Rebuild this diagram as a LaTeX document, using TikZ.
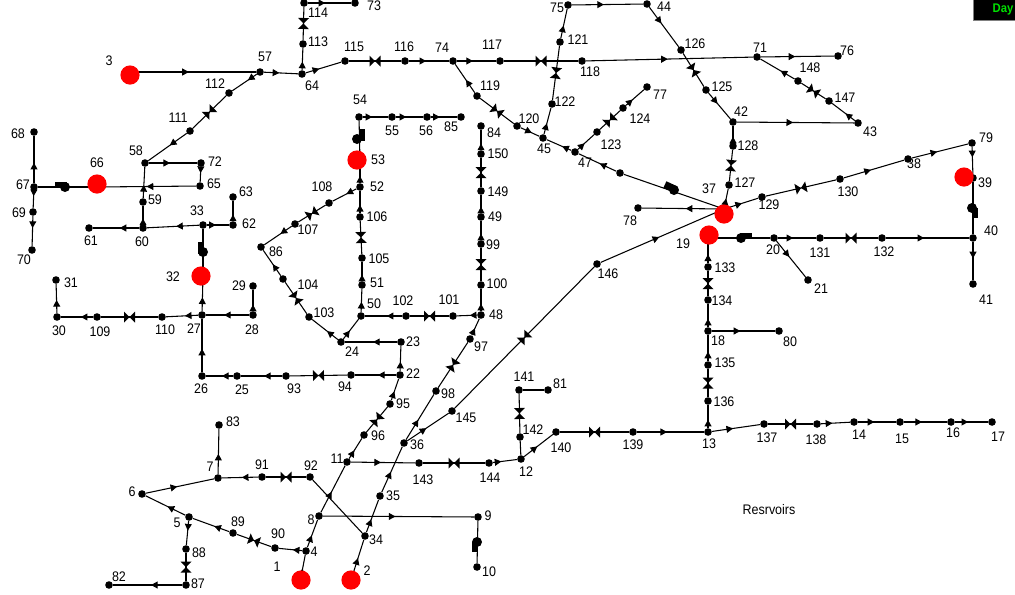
\documentclass[tikz,border=0pt]{standalone}
\usepackage{fontspec}
\setmainfont{Liberation Sans}[FakeStretch=0.9]
\usepackage{tikz}
\usetikzlibrary{arrows.meta, decorations.markings}

\tikzset{
    jn/.style={circle, fill=black, inner sep=0pt, minimum size=5.7pt},
    res/.style={circle, fill=red, inner sep=0pt, minimum size=14.4pt},
    lbl/.style={inner sep=0pt, font=\fontsize{10.4}{11}\selectfont},
    pumpdot/.style={circle, fill=black, inner sep=0pt, minimum size=7.5pt},
    pumpbox/.style={rectangle, fill=black, inner sep=0pt},
    pipe/.style={line width=0.8pt},
    arr/.style={pipe, postaction={decorate, decoration={markings, mark=at position #1 with {\arrow{Triangle[length=5pt,width=5.2pt]}}}}},
    valve/.style={pipe, postaction={decorate, decoration={markings, mark=at position 0.5 with {\fill (-5.5,-5.5) -- (-5.5,5.5) -- (5.5,-5.5) -- (5.5,5.5) -- cycle;}}}}
}

\begin{document}
\begin{tikzpicture}[x=0.75pt, y=-0.75pt]
    \useasboundingbox (0,0) rectangle (1015,594);
    % Junctions under the reservoirs
    \node[jn] (n1) at (301,577) {}; \node[lbl] (t1) at (277,567) {1};
    \node[jn] (n2) at (352,577) {}; \node[lbl] (t2) at (367,571) {2};
    \node[jn] (n3) at (130,72) {}; \node[lbl] (t3) at (109,61) {3};
    \node[jn] (n19) at (708,238) {}; \node[lbl] (t19) at (683,244) {19};
    \node[jn] (n32) at (203,276) {}; \node[lbl] (t32) at (173,277) {32};
    \node[jn] (n37) at (724,209) {}; \node[lbl] (t37) at (709,189) {37};
    \node[jn] (n39) at (973,178) {}; \node[lbl] (t39) at (985,183) {39};
    \node[jn] (n53) at (360,162) {}; \node[lbl] (t53) at (378,160) {53};
    \node[jn] (n66) at (97,187) {}; \node[lbl] (t66) at (97,163) {66};
    % Junctions
    \node[jn] (n4) at (306,551) {}; \node[lbl] (t4) at (314,552) {4};
    \node[jn] (n5) at (189,517) {}; \node[lbl] (t5) at (177,523) {5};
    \node[jn] (n6) at (142,494) {}; \node[lbl] (t6) at (132,492) {6};
    \node[jn] (n7) at (218,478) {}; \node[lbl] (t7) at (210,467) {7};
    \node[jn] (n8) at (319,516) {}; \node[lbl] (t8) at (311,520) {8};
    \node[jn] (n9) at (478,517) {}; \node[lbl] (t9) at (488,516) {9};
    \node[jn] (n10) at (477,567) {}; \node[lbl] (t10) at (489,572) {10};
    \node[jn] (n11) at (347,462) {}; \node[lbl] (t11) at (337,459) {11};
    \node[jn] (n12) at (521,459) {}; \node[lbl] (t12) at (526,472) {12};
    \node[jn] (n13) at (708,432) {}; \node[lbl] (t13) at (709,444) {13};
    \node[jn] (n14) at (854,422) {}; \node[lbl] (t14) at (859,435) {14};
    \node[jn] (n15) at (900,422) {}; \node[lbl] (t15) at (902,439) {15};
    \node[jn] (n16) at (951,422) {}; \node[lbl] (t16) at (953,433) {16};
    \node[jn] (n17) at (992,422) {}; \node[lbl] (t17) at (998,437) {17};
    \node[jn] (n18) at (708,331) {}; \node[lbl] (t18) at (718,341) {18};
    \node[jn] (n20) at (774,238) {}; \node[lbl] (t20) at (773,250) {20};
    \node[jn] (n21) at (808,280) {}; \node[lbl] (t21) at (821,289) {21};
    \node[jn] (n22) at (400,375) {}; \node[lbl] (t22) at (413,374) {22};
    \node[jn] (n23) at (401,342) {}; \node[lbl] (t23) at (413,342) {23};
    \node[jn] (n24) at (341,342) {}; \node[lbl] (t24) at (352,352) {24};
    \node[jn] (n25) at (237,376) {}; \node[lbl] (t25) at (242,390) {25};
    \node[jn] (n26) at (202,376) {}; \node[lbl] (t26) at (201,389) {26};
    \node[jn] (n27) at (202,315) {}; \node[lbl] (t27) at (194,329) {27};
    \node[jn] (n28) at (253,315) {}; \node[lbl] (t28) at (252,330) {28};
    \node[jn] (n29) at (253,286) {}; \node[lbl] (t29) at (239,286) {29};
    \node[jn] (n30) at (57,317) {}; \node[lbl] (t30) at (59,331) {30};
    \node[jn] (n31) at (56,280) {}; \node[lbl] (t31) at (71,283) {31};
    \node[jn] (n33) at (203,225) {}; \node[lbl] (t33) at (197,211) {33};
    \node[jn] (n34) at (365,536) {}; \node[lbl] (t34) at (376,540) {34};
    \node[jn] (n35) at (380,496) {}; \node[lbl] (t35) at (393,496) {35};
    \node[jn] (n36) at (404,443) {}; \node[lbl] (t36) at (417,445) {36};
    \node[jn] (n38) at (908,159) {}; \node[lbl] (t38) at (914,164) {38};
    \node[jn] (n40) at (973,238) {}; \node[lbl] (t40) at (991,231) {40};
    \node[jn] (n41) at (973,284) {}; \node[lbl] (t41) at (986,300) {41};
    \node[jn] (n42) at (733,122) {}; \node[lbl] (t42) at (741,112) {42};
    \node[jn] (n43) at (858,123) {}; \node[lbl] (t43) at (870,132) {43};
    \node[jn] (n44) at (647,4) {}; \node[lbl] (t44) at (664,7) {44};
    \node[jn] (n45) at (543,138) {}; \node[lbl] (t45) at (544,149) {45};
    \node[jn] (n46) at (620,173) {};
    \node[jn] (n47) at (575,152) {}; \node[lbl] (t47) at (585,163) {47};
    \node[jn] (n48) at (481,315) {}; \node[lbl] (t48) at (496,315) {48};
    \node[jn] (n49) at (481,217) {}; \node[lbl] (t49) at (495,217) {49};
    \node[jn] (n50) at (361,316) {}; \node[lbl] (t50) at (374,304) {50};
    \node[jn] (n51) at (362,285) {}; \node[lbl] (t51) at (377,283) {51};
    \node[jn] (n52) at (360,187) {}; \node[lbl] (t52) at (377,187) {52};
    \node[jn] (n54) at (359,117) {}; \node[lbl] (t54) at (360,100) {54};
    \node[jn] (n55) at (392,117) {}; \node[lbl] (t55) at (392,131) {55};
    \node[jn] (n56) at (427,117) {}; \node[lbl] (t56) at (426,131) {56};
    \node[jn] (n57) at (260,72) {}; \node[lbl] (t57) at (265,57) {57};
    \node[jn] (n58) at (145,163) {}; \node[lbl] (t58) at (136,151) {58};
    \node[jn] (n59) at (143,202) {}; \node[lbl] (t59) at (155,200) {59};
    \node[jn] (n60) at (143,228) {}; \node[lbl] (t60) at (142,242) {60};
    \node[jn] (n61) at (89,228) {}; \node[lbl] (t61) at (91,241) {61};
    \node[jn] (n62) at (233,225) {}; \node[lbl] (t62) at (249,224) {62};
    \node[jn] (n63) at (233,197) {}; \node[lbl] (t63) at (246,192) {63};
    \node[jn] (n64) at (302,74) {}; \node[lbl] (t64) at (312,86) {64};
    \node[jn] (n65) at (200,186) {}; \node[lbl] (t65) at (214,184) {65};
    \node[jn] (n67) at (34,187) {}; \node[lbl] (t67) at (23,185) {67};
    \node[jn] (n68) at (34,132) {}; \node[lbl] (t68) at (18,134) {68};
    \node[jn] (n69) at (33,212) {}; \node[lbl] (t69) at (19,213) {69};
    \node[jn] (n70) at (32,250) {}; \node[lbl] (t70) at (24,260) {70};
    \node[jn] (n71) at (757,57) {}; \node[lbl] (t71) at (760,48) {71};
    \node[jn] (n72) at (201,163) {}; \node[lbl] (t72) at (215,162) {72};
    \node[jn] (n73) at (355,3) {}; \node[lbl] (t73) at (374,6) {73};
    \node[jn] (n74) at (453,61) {}; \node[lbl] (t74) at (442,48) {74};
    \node[jn] (n75) at (568,5) {}; \node[lbl] (t75) at (557,8) {75};
    \node[jn] (n76) at (838,56) {}; \node[lbl] (t76) at (847,51) {76};
    \node[jn] (n77) at (647,87) {}; \node[lbl] (t77) at (660,95) {77};
    \node[jn] (n78) at (638,208) {}; \node[lbl] (t78) at (630,221) {78};
    \node[jn] (n79) at (972,143) {}; \node[lbl] (t79) at (986,138) {79};
    \node[jn] (n80) at (779,331) {}; \node[lbl] (t80) at (790,342) {80};
    \node[jn] (n81) at (548,390) {}; \node[lbl] (t81) at (560,384) {81};
    \node[jn] (n82) at (109,585) {}; \node[lbl] (t82) at (119,577) {82};
    \node[jn] (n83) at (219,425) {}; \node[lbl] (t83) at (233,422) {83};
    \node[jn] (n84) at (481,126) {}; \node[lbl] (t84) at (494,133) {84};
    \node[jn] (n85) at (461,117) {}; \node[lbl] (t85) at (451,127) {85};
    \node[jn] (n86) at (261,247) {}; \node[lbl] (t86) at (276,252) {86};
    \node[jn] (n87) at (186,585) {}; \node[lbl] (t87) at (198,584) {87};
    \node[jn] (n88) at (186,549) {}; \node[lbl] (t88) at (199,553) {88};
    \node[jn] (n89) at (233,533) {}; \node[lbl] (t89) at (238,522) {89};
    \node[jn] (n90) at (275,548) {}; \node[lbl] (t90) at (278,534) {90};
    \node[jn] (n91) at (262,477) {}; \node[lbl] (t91) at (262,465) {91};
    \node[jn] (n92) at (310,477) {}; \node[lbl] (t92) at (311,466) {92};
    \node[jn] (n93) at (286,376) {}; \node[lbl] (t93) at (294,389) {93};
    \node[jn] (n94) at (351,375) {}; \node[lbl] (t94) at (345,387) {94};
    \node[jn] (n95) at (390,404) {}; \node[lbl] (t95) at (403,404) {95};
    \node[jn] (n96) at (364,435) {}; \node[lbl] (t96) at (378,436) {96};
    \node[jn] (n97) at (470,339) {}; \node[lbl] (t97) at (481,347) {97};
    \node[jn] (n98) at (436,391) {}; \node[lbl] (t98) at (448,394) {98};
    \node[jn] (n99) at (481,244) {}; \node[lbl] (t99) at (493,245) {99};
    \node[jn] (n100) at (481,285) {}; \node[lbl] (t100) at (497,284) {100};
    \node[jn] (n101) at (453,316) {}; \node[lbl] (t101) at (449,300) {101};
    \node[jn] (n102) at (406,316) {}; \node[lbl] (t102) at (403,301) {102};
    \node[jn] (n103) at (309,317) {}; \node[lbl] (t103) at (324,313) {103};
    \node[jn] (n104) at (283,279) {}; \node[lbl] (t104) at (308,285) {104};
    \node[jn] (n105) at (362,258) {}; \node[lbl] (t105) at (379,259) {105};
    \node[jn] (n106) at (360,217) {}; \node[lbl] (t106) at (377,217) {106};
    \node[jn] (n107) at (295,224) {}; \node[lbl] (t107) at (308,230) {107};
    \node[jn] (n108) at (329,203) {}; \node[lbl] (t108) at (322,187) {108};
    \node[jn] (n109) at (97,317) {}; \node[lbl] (t109) at (100,332) {109};
    \node[jn] (n110) at (162,317) {}; \node[lbl] (t110) at (165,330) {110};
    \node[jn] (n111) at (190,131) {}; \node[lbl] (t111) at (178,118) {111};
    \node[jn] (n112) at (229,93) {}; \node[lbl] (t112) at (215,84) {112};
    \node[jn] (n113) at (303,44) {}; \node[lbl] (t113) at (318,42) {113};
    \node[jn] (n114) at (304,3) {}; \node[lbl] (t114) at (318,13) {114};
    \node[jn] (n115) at (345,61) {}; \node[lbl] (t115) at (354,47) {115};
    \node[jn] (n116) at (405,61) {}; \node[lbl] (t116) at (404,47) {116};
    \node[jn] (n117) at (500,61) {}; \node[lbl] (t117) at (492,45) {117};
    \node[jn] (n118) at (582,61) {}; \node[lbl] (t118) at (590,72) {118};
    \node[jn] (n119) at (477,96) {}; \node[lbl] (t119) at (490,86) {119};
    \node[jn] (n120) at (517,126) {}; \node[lbl] (t120) at (529,119) {120};
    \node[jn] (n121) at (560,42) {}; \node[lbl] (t121) at (578,40) {121};
    \node[jn] (n122) at (552,104) {}; \node[lbl] (t122) at (565,102) {122};
    \node[jn] (n123) at (597,132) {}; \node[lbl] (t123) at (611,145) {123};
    \node[jn] (n124) at (623,108) {}; \node[lbl] (t124) at (640,119) {124};
    \node[jn] (n125) at (706,90) {}; \node[lbl] (t125) at (722,87) {125};
    \node[jn] (n126) at (681,50) {}; \node[lbl] (t126) at (695,44) {126};
    \node[jn] (n127) at (729,185) {}; \node[lbl] (t127) at (745,183) {127};
    \node[jn] (n128) at (733,146) {}; \node[lbl] (t128) at (748,146) {128};
    \node[jn] (n129) at (762,197) {}; \node[lbl] (t129) at (769,205) {129};
    \node[jn] (n130) at (840,179) {}; \node[lbl] (t130) at (848,192) {130};
    \node[jn] (n131) at (820,238) {}; \node[lbl] (t131) at (820,253) {131};
    \node[jn] (n132) at (882,238) {}; \node[lbl] (t132) at (884,252) {132};
    \node[jn] (n133) at (708,267) {}; \node[lbl] (t133) at (725,268) {133};
    \node[jn] (n134) at (708,300) {}; \node[lbl] (t134) at (722,301) {134};
    \node[jn] (n135) at (708,365) {}; \node[lbl] (t135) at (725,363) {135};
    \node[jn] (n136) at (708,401) {}; \node[lbl] (t136) at (724,402) {136};
    \node[jn] (n137) at (764,424) {}; \node[lbl] (t137) at (767,438) {137};
    \node[jn] (n138) at (817,424) {}; \node[lbl] (t138) at (816,440) {138};
    \node[jn] (n139) at (633,432) {}; \node[lbl] (t139) at (633,445) {139};
    \node[jn] (n140) at (556,432) {}; \node[lbl] (t140) at (561,448) {140};
    \node[jn] (n141) at (519,390) {}; \node[lbl] (t141) at (524,377) {141};
    \node[jn] (n142) at (520,437) {}; \node[lbl] (t142) at (533,430) {142};
    \node[jn] (n143) at (419,463) {}; \node[lbl] (t143) at (423,480) {143};
    \node[jn] (n144) at (489,463) {}; \node[lbl] (t144) at (490,478) {144};
    \node[jn] (n145) at (452,411) {}; \node[lbl] (t145) at (466,418) {145};
    \node[jn] (n146) at (597,264) {}; \node[lbl] (t146) at (608,274) {146};
    \node[jn] (n147) at (829,101) {}; \node[lbl] (t147) at (845,98) {147};
    \node[jn] (n148) at (798,81) {}; \node[lbl] (t148) at (810,68) {148};
    \node[jn] (n149) at (481,191) {}; \node[lbl] (t149) at (498,192) {149};
    \node[jn] (n150) at (481,154) {}; \node[lbl] (t150) at (498,154) {150};
    % Pipes, west side
    \draw[arr=.45] (n3) -- (n57);
    \draw[arr=.45] (n57) -- (n64);
    \draw[arr=.38] (n64) -- (n113);
    \draw[valve] (n113) -- (n114);
    \draw[arr=.4] (n114) -- (n73);
    \draw[arr=.38] (n64) -- (n115);
    \draw[valve] (n115) -- (n116);
    \draw[arr=.36] (n57) -- (n112);
    \draw[valve] (n112) -- (n111);
    \draw[arr=.44] (n111) -- (n58);
    \draw[arr=.44] (n58) -- (n72);
    \draw[arr=.4] (n72) -- (n65);
    \draw[arr=.52] (n65) -- (n66);
    \draw[pipe] (n66) -- (n67);
    \draw[arr=.42] (n59) -- (n58);
    \draw[arr=.3] (n60) -- (n59);
    \draw[arr=.42] (n60) -- (n61);
    \draw[arr=.44] (n33) -- (n60);
    \draw[arr=.4] (n33) -- (n62);
    \draw[arr=.32] (n62) -- (n63);
    \draw[pipe] (n32) -- (n33);
    \draw[arr=.43] (n67) -- (n68);
    \draw[arr=.3] (n67) -- (n69);
    \draw[arr=.4] (n69) -- (n70);
    \draw[arr=.44] (n27) -- (n32);
    \draw[arr=.41] (n27) -- (n110);
    \draw[valve] (n110) -- (n109);
    \draw[arr=.38] (n109) -- (n30);
    \draw[arr=.45] (n30) -- (n31);
    \draw[arr=.58] (n28) -- (n27);
    \draw[arr=.3] (n28) -- (n29);
    \draw[arr=.44] (n26) -- (n27);
    \draw[arr=.41] (n25) -- (n26);
    \draw[arr=.44] (n93) -- (n25);
    \draw[valve] (n94) -- (n93);
    \draw[arr=.44] (n22) -- (n94);
    \draw[arr=.37] (n22) -- (n23);
    \draw[arr=.46] (n23) -- (n24);
    \draw[arr=.42] (n24) -- (n50);
    \draw[arr=.42] (n24) -- (n103);
    \draw[valve] (n103) -- (n104);
    \draw[arr=.45] (n104) -- (n86);
    \draw[arr=.41] (n107) -- (n86);
    \draw[valve] (n108) -- (n107);
    \draw[arr=.42] (n52) -- (n108);
    \draw[arr=.41] (n52) -- (n53);
    \draw[arr=.37] (n106) -- (n52);
    \draw[valve] (n105) -- (n106);
    \draw[arr=.33] (n51) -- (n105);
    \draw[arr=.44] (n50) -- (n51);
    \draw[pipe] (n53) -- (n54);
    \draw[arr=.37] (n54) -- (n55);
    \draw[arr=.38] (n55) -- (n56);
    \draw[arr=.34] (n56) -- (n85);
    % Pipes, middle
    \draw[arr=.33] (n48) -- (n100);
    \draw[valve] (n100) -- (n99);
    \draw[arr=.33] (n99) -- (n49);
    \draw[arr=.35] (n49) -- (n149);
    \draw[valve] (n149) -- (n150);
    \draw[arr=.32] (n150) -- (n84);
    \draw[arr=.36] (n48) -- (n101);
    \draw[valve] (n101) -- (n102);
    \draw[arr=.41] (n102) -- (n50);
    \draw[arr=.42] (n97) -- (n48);
    \draw[valve] (n98) -- (n97);
    \draw[arr=.44] (n36) -- (n98);
    \draw[arr=.45] (n35) -- (n36);
    \draw[arr=.4] (n34) -- (n35);
    \draw[arr=.45] (n2) -- (n34);
    \draw[pipe] (n92) -- (n34);
    \draw[valve] (n92) -- (n91);
    \draw[arr=.45] (n91) -- (n7);
    \draw[arr=.45] (n7) -- (n83);
    \draw[arr=.46] (n6) -- (n7);
    \draw[arr=.45] (n5) -- (n6);
    \draw[arr=.41] (n89) -- (n5);
    \draw[valve] (n90) -- (n89);
    \draw[arr=.4] (n4) -- (n90);
    \draw[arr=.25] (n1) -- (n4);
    \draw[arr=.43] (n4) -- (n8);
    \draw[arr=.44] (n8) -- (n11);
    \draw[arr=.48] (n8) -- (n9);
    \draw[pipe] (n9) -- (n10);
    \draw[arr=.4] (n5) -- (n88);
    \draw[valve] (n88) -- (n87);
    \draw[arr=.45] (n87) -- (n82);
    \draw[arr=.41] (n11) -- (n96);
    \draw[valve] (n96) -- (n95);
    \draw[arr=.41] (n95) -- (n22);
    \draw[arr=.47] (n11) -- (n143);
    \draw[valve] (n143) -- (n144);
    \draw[arr=.35] (n144) -- (n12);
    \draw[pipe] (n12) -- (n142);
    \draw[valve] (n142) -- (n141);
    \draw[pipe] (n141) -- (n81);
    \draw[arr=.46] (n12) -- (n140);
    \draw[valve] (n140) -- (n139);
    \draw[arr=.45] (n139) -- (n13);
    \draw[arr=.46] (n36) -- (n145);
    \draw[valve] (n145) -- (n146);
    \draw[arr=.49] (n146) -- (n37);
    % Pipes, north and east side
    \draw[arr=.43] (n116) -- (n74);
    \draw[arr=.41] (n74) -- (n117);
    \draw[valve] (n117) -- (n118);
    \draw[arr=.49] (n118) -- (n71);
    \draw[arr=.47] (n71) -- (n76);
    \draw[arr=.45] (n119) -- (n74);
    \draw[valve] (n119) -- (n120);
    \draw[arr=.6] (n120) -- (n45);
    \draw[arr=.37] (n47) -- (n45);
    \draw[arr=.41] (n45) -- (n122);
    \draw[valve] (n122) -- (n121);
    \draw[arr=.43] (n121) -- (n75);
    \draw[arr=.45] (n75) -- (n44);
    \draw[arr=.41] (n44) -- (n126);
    \draw[valve] (n126) -- (n125);
    \draw[arr=.41] (n125) -- (n42);
    \draw[arr=.41] (n47) -- (n123);
    \draw[valve] (n123) -- (n124);
    \draw[arr=.37] (n124) -- (n77);
    \draw[arr=.44] (n46) -- (n47);
    \draw[pipe] (n37) -- (n46);
    \draw[arr=.44] (n37) -- (n78);
    \draw[arr=.47] (n37) -- (n129);
    \draw[arr=.4] (n37) -- (n127);
    \draw[valve] (n127) -- (n128);
    \draw[arr=.33] (n128) -- (n42);
    \draw[arr=.48] (n42) -- (n43);
    \draw[arr=.41] (n43) -- (n147);
    \draw[valve] (n147) -- (n148);
    \draw[arr=.41] (n148) -- (n71);
    \draw[valve] (n129) -- (n130);
    \draw[arr=.45] (n130) -- (n38);
    \draw[arr=.45] (n38) -- (n79);
    \draw[arr=.38] (n79) -- (n39);
    \draw[pipe] (n39) -- (n40);
    \draw[arr=.43] (n40) -- (n41);
    \draw[arr=.46] (n132) -- (n40);
    \draw[valve] (n131) -- (n132);
    \draw[arr=.4] (n20) -- (n131);
    \draw[arr=.44] (n20) -- (n21);
    \draw[pipe] (n19) -- (n20);
    \draw[arr=.41] (n133) -- (n19);
    \draw[valve] (n134) -- (n133);
    \draw[arr=.36] (n18) -- (n134);
    \draw[arr=.45] (n18) -- (n80);
    \draw[arr=.36] (n135) -- (n18);
    \draw[valve] (n136) -- (n135);
    \draw[arr=.36] (n13) -- (n136);
    \draw[arr=.44] (n13) -- (n137);
    \draw[valve] (n137) -- (n138);
    \draw[arr=.39] (n138) -- (n14);
    \draw[arr=.43] (n14) -- (n15);
    \draw[arr=.42] (n15) -- (n16);
    \draw[arr=.4] (n16) -- (n17);
    % Pumps
    \node[pumpdot] (p66) at (65,187) {}; \node[pumpbox, minimum width=9.5pt, minimum height=3.8pt] (q66) at (61,184.5) {};
    \node[pumpdot] (p32) at (203,252) {}; \node[pumpbox, minimum width=3.8pt, minimum height=9.5pt] (q32) at (200.5,248) {};
    \node[pumpdot] (p53) at (357,139) {}; \node[pumpbox, minimum width=3.8pt, minimum height=9.5pt] (q53) at (362.5,135) {};
    \node[pumpdot] (p37) at (674,190) {}; \node[pumpbox, rotate=-25, minimum width=8.5pt, minimum height=5.5pt] (q37) at (670,187) {};
    \node[pumpdot] (p19) at (741,238) {}; \node[pumpbox, minimum width=9pt, minimum height=3.8pt] (q19) at (746,235.5) {};
    \node[pumpdot] (p39) at (972,208) {}; \node[pumpbox, minimum width=3.8pt, minimum height=8pt] (q39) at (975.5,213) {};
    \node[pumpdot] (p9) at (477,542) {}; \node[pumpbox, minimum width=3.8pt, minimum height=8pt] (q9) at (474.5,547) {};
    % Reservoirs
    \node[res] (r1) at (301,580) {};
    \node[res] (r2) at (351,580) {};
    \node[res] (r3) at (130,75) {};
    \node[res] (r19) at (709,235) {};
    \node[res] (r32) at (201,276) {};
    \node[res] (r37) at (724,214) {};
    \node[res] (r39) at (964,177) {};
    \node[res] (r53) at (357,160) {};
    \node[res] (r66) at (97,184) {};
    % Texts
    \node[lbl] (cap) at (769,510) {Resrvoirs};
    \node[rectangle, fill=black, draw=gray, minimum width=33pt, minimum height=17pt, inner sep=0pt] (daybox) at (995,9) {};
    \node[font=\fontsize{9.4}{10}\selectfont\bfseries, text={rgb,255:red,0;green,224;blue,0}, inner sep=0pt] (day) at (1003,9.5) {Day};
\end{tikzpicture}
\end{document}
